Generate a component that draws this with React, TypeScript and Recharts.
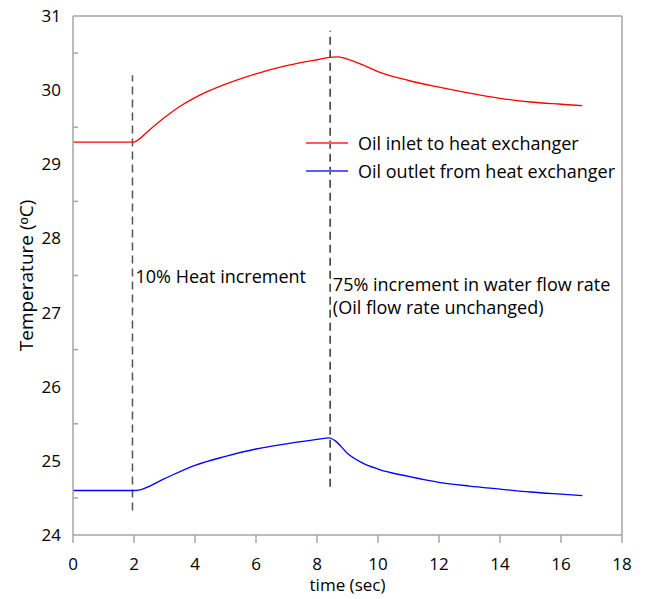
import React from "react";
import {
  Legend,
  Line,
  LineChart,
  ReferenceDot,
  ReferenceLine,
  XAxis,
  YAxis,
} from "recharts";

const redTime = [0, 2, 2.1, 2.5, 3, 3.5, 4, 5, 6, 7, 8, 8.5, 8.7, 9, 9.5, 10, 11, 12, 13, 14, 15, 16, 16.7];
const redTemp = [29.3, 29.3, 29.32, 29.46, 29.63, 29.78, 29.9, 30.08, 30.22, 30.33, 30.41, 30.445, 30.45, 30.42, 30.34, 30.25, 30.13, 30.04, 29.96, 29.89, 29.84, 29.81, 29.79];

const blueTime = [0, 2, 2.2, 3, 4, 5, 6, 7, 8, 8.4, 8.6, 9, 9.5, 10, 11, 12, 13, 14, 15, 16, 16.7];
const blueTemp = [24.6, 24.6, 24.61, 24.76, 24.94, 25.06, 25.16, 25.23, 25.29, 25.31, 25.27, 25.1, 24.97, 24.89, 24.79, 24.71, 24.66, 24.62, 24.58, 24.55, 24.53];

const xTicks = [0, 2, 4, 6, 8, 10, 12, 14, 16, 18];
const yTicks = [24, 24.5, 25, 25.5, 26, 26.5, 27, 27.5, 28, 28.5, 29, 29.5, 30, 30.5, 31];

const seriesNames = ["Oil inlet to heat exchanger", "Oil outlet from heat exchanger"];

const heatStepTime = 1.95;
const flowStepTime = 8.43;

const redData = redTime.map((t, i) => ({ t, v: redTemp[i] }));
const blueData = blueTime.map((t, i) => ({ t, v: blueTemp[i] }));

const FONT = "'Open Sans', sans-serif";
const AXIS = "#a6a6a6";

const YTick = (props: any) => {
  const { x, y, payload } = props;
  const v = payload.value;
  if (Number.isInteger(v)) {
    return (
      <text x={x - 12} y={y} dy="0.35em" textAnchor="end" fontSize={17} fill="#000" fontFamily={FONT}>
        {v}
      </text>
    );
  }
  return <line x1={x} x2={x + 5} y1={y} y2={y} stroke={AXIS} strokeWidth={1.5} />;
};

const LegendBox = () => (
  <div style={{ fontFamily: FONT, fontSize: 18, color: "#000", lineHeight: "28px", width: 340, whiteSpace: "nowrap" }}>
    {seriesNames.map((name, i) => (
      <div key={name} style={{ display: "flex", alignItems: "center" }}>
        <svg width={52} height={10}>
          <line x1={0} x2={42} y1={5} y2={5} stroke={i === 0 ? "#ff5b5b" : "#5b5bff"} strokeWidth={2} />
        </svg>
        <span>{name}</span>
      </div>
    ))}
  </div>
);

const Note = ({ lines }: { lines: string[] }) => (props: any) => {
  const { viewBox } = props;
  return (
    <text x={viewBox.x} y={viewBox.y} fontSize={18} fontFamily={FONT} fill="#000">
      {lines.map((l, i) => (
        <tspan key={i} x={viewBox.x} dy={i === 0 ? "0.35em" : 23}>
          {l}
        </tspan>
      ))}
    </text>
  );
};

export default function App() {
  return (
    <div style={{ position: "absolute", left: 0, top: 0, width: 646, height: 599, background: "#fff" }}>
      <LineChart width={646} height={599} margin={{ top: 16, right: 24, left: 13, bottom: 34 }}>
        <XAxis
          dataKey="t"
          type="number"
          domain={[0, 18]}
          ticks={xTicks}
          interval={0}
          stroke={AXIS}
          strokeWidth={1.5}
          tickSize={8}
          tickMargin={15}
          tick={{ fontSize: 17, fill: "#000", fontFamily: FONT }}
          height={30}
          label={{ value: "time (sec)", position: "insideBottom", offset: -26, fontSize: 17, fill: "#000", fontFamily: FONT }}
        />
        <YAxis
          type="number"
          domain={[24, 31]}
          ticks={yTicks}
          interval={0}
          stroke={AXIS}
          strokeWidth={1.5}
          tickLine={false}
          tickSize={0}
          tickMargin={0}
          tick={<YTick />}
          width={60}
          label={{ value: "Temperature (ᵒC)", angle: -90, position: "insideLeft", offset: 13, fontSize: 19, fill: "#000", fontFamily: FONT, style: { textAnchor: "middle" } }}
        />
        <ReferenceLine y={31} stroke={AXIS} strokeWidth={1.5} />
        <ReferenceLine x={18} stroke={AXIS} strokeWidth={1.5} />
        <ReferenceLine
          segment={[{ x: heatStepTime, y: 24.33 }, { x: heatStepTime, y: 30.2 }]}
          stroke="#555"
          strokeWidth={1.5}
          strokeDasharray="8 5"
        />
        <ReferenceLine
          segment={[{ x: flowStepTime, y: 24.65 }, { x: flowStepTime, y: 30.8 }]}
          stroke="#000"
          strokeWidth={1.2}
          strokeDasharray="8 5"
        />
        <Line
          data={redData}
          dataKey="v"
          name={seriesNames[0]}
          type="monotone"
          stroke="#ff0000"
          strokeWidth={1.3}
          dot={false}
          isAnimationActive={false}
        />
        <Line
          data={blueData}
          dataKey="v"
          name={seriesNames[1]}
          type="monotone"
          stroke="#0000ff"
          strokeWidth={1.3}
          dot={false}
          isAnimationActive={false}
        />
        <ReferenceDot x={2.05} y={27.48} r={0} stroke="none" label={Note({ lines: ["10% Heat increment"] })} />
        <ReferenceDot
          x={8.52}
          y={27.38}
          r={0}
          stroke="none"
          label={Note({ lines: ["75% increment in water flow rate", "(Oil flow rate unchanged)"] })}
        />
        <Legend
          layout="vertical"
          content={<LegendBox />}
          wrapperStyle={{ position: "absolute", left: 306, top: 129, width: 0, height: 0, overflow: "visible" }}
        />
      </LineChart>
    </div>
  );
}
